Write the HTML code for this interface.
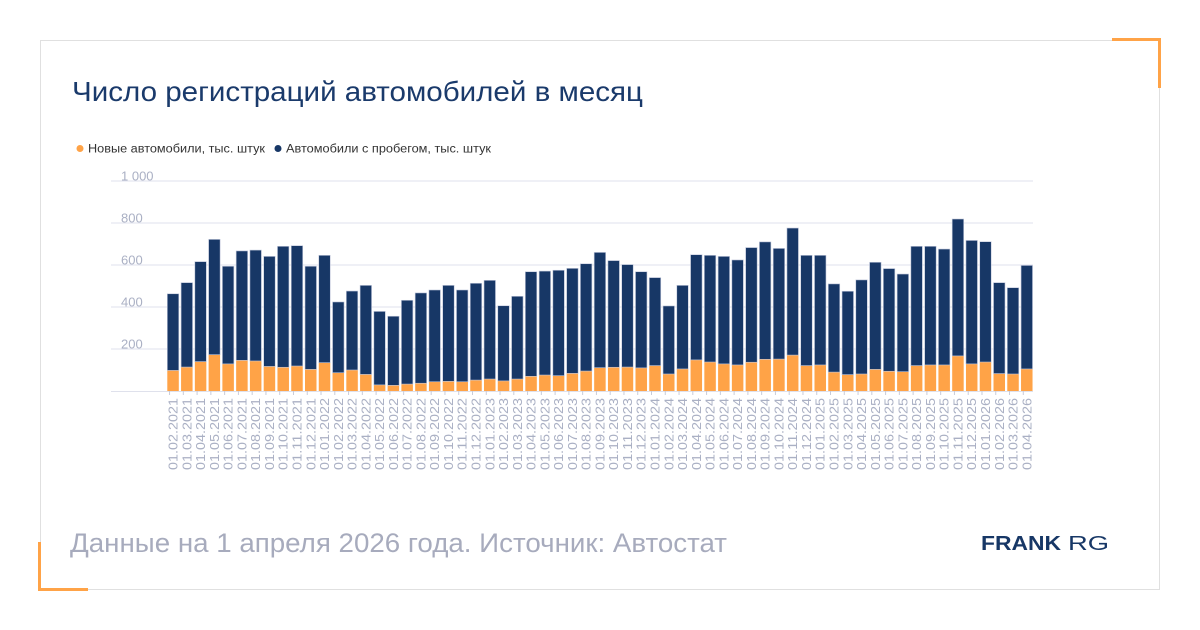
<!DOCTYPE html>
<html><head><meta charset="utf-8"><style>
html,body{margin:0;padding:0;background:#fff;}
svg{display:block;font-family:"Liberation Sans",sans-serif;}
</style></head><body>
<svg id="chart" width="1200" height="630" viewBox="0 0 1200 630" xmlns="http://www.w3.org/2000/svg">
<rect x="40.5" y="40.5" width="1119" height="549" fill="#fff" stroke="#e0e0e0" stroke-width="1"/>
<path d="M1112 39.5 H1159.5 V88" fill="none" stroke="#ffa347" stroke-width="3"/>
<path d="M39.5 542 V589.5 H88" fill="none" stroke="#ffa347" stroke-width="3"/>
<text x="72" y="101" font-size="28" fill="#1a3a6b" textLength="571" lengthAdjust="spacingAndGlyphs">Число регистраций автомобилей в месяц</text>
<g>
<circle cx="80" cy="148.5" r="3.5" fill="#ffa347"/>
<text x="88" y="152.5" font-size="11.5" fill="#333" textLength="177" lengthAdjust="spacingAndGlyphs">Новые автомобили, тыс. штук</text>
<circle cx="278" cy="148.5" r="3.5" fill="#173766"/>
<text x="286" y="152.5" font-size="11.5" fill="#333" textLength="205" lengthAdjust="spacingAndGlyphs">Автомобили с пробегом, тыс. штук</text>
</g>
<g id="grid"></g>
<g id="bars"></g>
<g id="xlabels"></g>
<text x="70" y="552" font-size="27" fill="#a7abbd" textLength="657" lengthAdjust="spacingAndGlyphs">Данные на 1 апреля 2026 года. Источник: Автостат</text>
<text x="981" y="550" font-size="20" fill="#173766" font-weight="bold" textLength="80" lengthAdjust="spacingAndGlyphs">FRANK</text>
<text x="1068" y="550" font-size="20" fill="#173766" textLength="41" lengthAdjust="spacingAndGlyphs">RG</text>
</svg>
<script>
const months = [];
(function(){let y=2021,m=2;for(let i=0;i<63;i++){months.push('01.'+String(m).padStart(2,'0')+'.'+y);m++;if(m>12){m=1;y++;}}})();
const newCars = [98,114,140,173,129,146,143,117,113,119,103,135,87,100,79,29,27,33,37,44,46,44,52,57,48,57,70,76,73,84,95,111,113,114,110,121,81,105,148,138,129,124,137,151,152,171,121,124,90,78,81,103,94,92,121,124,124,167,129,138,83,81,105];
const usedCars = [365,402,476,549,465,521,528,524,576,573,491,511,337,376,424,350,329,399,430,437,457,437,461,470,358,394,498,495,502,500,511,549,508,488,458,419,324,398,501,508,512,500,546,559,527,605,525,522,420,397,448,510,489,465,568,565,552,652,588,573,433,411,493];
const yTicks = [200,400,600,800,1000];
const yTickLabels = ['200','400','600','800','1 000'];

const NS='http://www.w3.org/2000/svg';
const y0=391, pxPer=0.21;
function yScale(v){return y0 - v*pxPer;}
const x0=167.3, step=13.77, bw=11.5;
function xScale(i){return x0 + i*step;}
function mk(tag,attrs,parent){const e=document.createElementNS(NS,tag);for(const k in attrs)e.setAttribute(k,attrs[k]);parent.appendChild(e);return e;}

const grid=document.getElementById('grid');
yTicks.forEach((t,i)=>{
  const l=mk('line',{x1:111,x2:1033,y1:yScale(t),y2:yScale(t),stroke:'#dfe1ec','stroke-width':1},grid);
  
  
  const tx=mk('text',{x:121,y:yScale(t)-0.5,'font-size':13,fill:'#aab0c4'},grid);
  tx.textContent=yTickLabels[i];
  
  
});
const base=mk('line',{x1:111,x2:1033,y1:y0+0.5,y2:y0+0.5,stroke:'#dfe1ec','stroke-width':1},grid);



const bars=document.getElementById('bars');
const xl=document.getElementById('xlabels');
months.forEach((m,i)=>{
  const x=xScale(i);
  const n=newCars[i], u=usedCars[i];
  const rn=mk('rect',{x:x,y:yScale(n),width:bw,height:n*pxPer,fill:'#ffa347'},bars);
  
  
  const ru=mk('rect',{x:x,y:yScale(n+u),width:bw,height:u*pxPer,fill:'#173766',stroke:'#c3c9dc','stroke-width':0.6},bars);
  
  
  const tk=mk('line',{x1:x+bw/2-3.5,x2:x+bw/2-3.5,y1:y0,y2:y0+4,stroke:'#c8ccda','stroke-width':1},xl);
  
  
  const cx=x+bw/2+4.5, cy=398;
  const t=mk('text',{x:cx,y:cy,'font-size':13,fill:'#aab0c4','text-anchor':'end',textLength:72,lengthAdjust:'spacingAndGlyphs',transform:'rotate(-90 '+cx+' '+cy+')'},xl);
  t.textContent=m;
  
  
});
</script>
</body></html>
